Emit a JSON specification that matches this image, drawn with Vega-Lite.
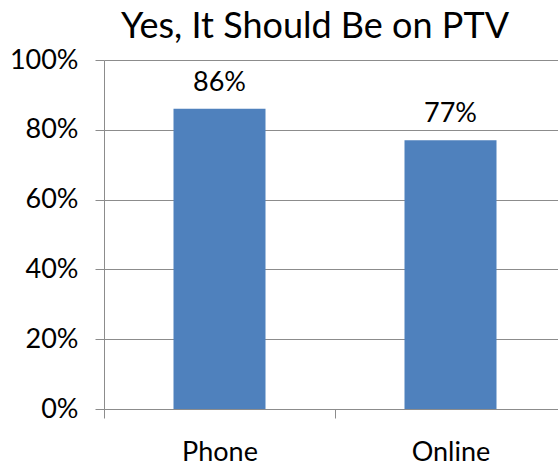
{
  "$schema": "https://vega.github.io/schema/vega-lite/v6.json",
  "autosize": {"type": "none"},
  "width": 462,
  "height": 349,
  "padding": {"left": 104, "top": 60, "right": 0, "bottom": 59},
  "background": "white",
  "title": {
    "text": "Yes, It Should Be on PTV",
    "font": "Lato",
    "fontSize": 36,
    "fontWeight": "normal",
    "color": "black",
    "anchor": "middle",
    "frame": "group",
    "dx": -20,
    "offset": 0
  },
  "data": {"values": [
    {"mode": "Phone", "pct": 0.86},
    {"mode": "Online", "pct": 0.77}
  ]},
  "encoding": {
    "x": {
      "field": "mode", "type": "nominal", "sort": null,
      "scale": {"paddingInner": 0, "paddingOuter": 0},
      "axis": {
        "title": null, "labelAngle": 0,
        "labelFont": "Lato", "labelFontSize": 27, "labelColor": "black",
        "domainColor": "#8c8c8c", "tickColor": "#8c8c8c", "tickSize": 9,
        "tickOffset": -115.5, "labelOffset": 115.5, "labelPadding": 21
      }
    },
    "y": {
      "field": "pct", "type": "quantitative",
      "scale": {"domain": [0, 1]},
      "axis": {
        "title": null, "format": ".0%", "values": [0, 0.2, 0.4, 0.6, 0.8, 1],
        "labelFont": "Lato", "labelFontSize": 27, "labelColor": "black",
        "domainColor": "#8c8c8c", "tickColor": "#8c8c8c", "tickSize": 9,
        "gridColor": "#8c8c8c", "labelPadding": 17
      }
    }
  },
  "layer": [
    {"mark": {"type": "bar", "color": "#4F81BD", "size": 92}},
    {
      "mark": {"type": "text", "dy": -12, "baseline": "bottom", "font": "Lato", "fontSize": 27, "color": "black"},
      "encoding": {"text": {"field": "pct", "type": "quantitative", "format": ".0%"}}
    }
  ],
  "config": {"view": {"stroke": null}}
}
